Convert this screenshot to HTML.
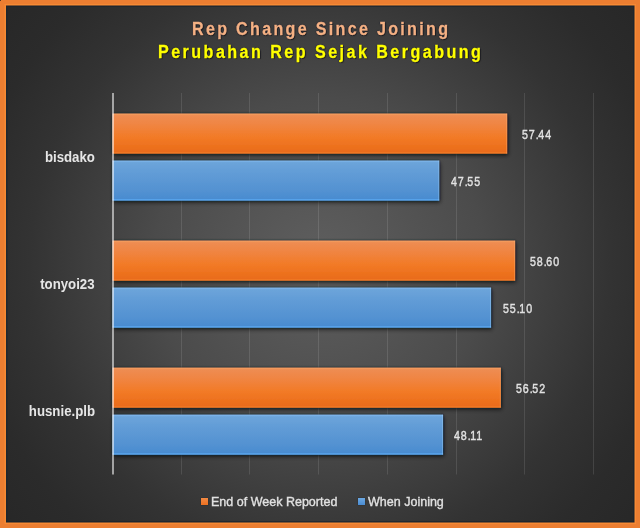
<!DOCTYPE html>
<html><head><meta charset="utf-8">
<style>
html,body{margin:0;padding:0;width:640px;height:528px;overflow:hidden;background:#ED7D31;}
#chart{position:absolute;left:0;top:0;width:640px;height:528px;overflow:hidden;
  background:radial-gradient(circle farthest-corner at 320px 264px,#5f5f5f 0%,#4b4b4b 40%,#333333 70%,#2b2b2b 85%,#272727 100%);}
.t{position:absolute;white-space:nowrap;font-family:"Liberation Sans",sans-serif;line-height:1;}
.title1{font-weight:bold;font-size:17.5px;color:#F4B183;letter-spacing:2.5px;transform:scaleX(0.92);transform-origin:0 0;-webkit-text-stroke:0.3px #F4B183;text-shadow:0 0 1px rgba(16,16,40,1),0 0 1.5px rgba(16,16,40,0.8),1px 1px 1px rgba(0,0,0,0.5);}
.title2{font-weight:bold;font-size:17.5px;color:#FFFF00;letter-spacing:2.67px;transform:scaleX(0.92);transform-origin:0 0;-webkit-text-stroke:0.3px #FFFF00;text-shadow:0 0 1px rgba(16,16,40,1),0 0 1.5px rgba(16,16,40,0.8),1px 1px 1px rgba(0,0,0,0.5);}
.cat{font-weight:bold;font-size:14px;color:#E6E6E6;transform:scaleX(0.945);transform-origin:100% 50%;}
.val{font-size:13px;color:#E2E2E2;letter-spacing:1.1px;transform:scaleX(0.82);transform-origin:0 50%;-webkit-text-stroke:0.45px #E2E2E2;text-shadow:0 0 1px rgba(0,0,0,0.5);}
.p{letter-spacing:-0.4px;}
.leg{font-size:13.5px;color:#E2E2E2;transform:scaleX(0.927);transform-origin:0 50%;-webkit-text-stroke:0.4px #E2E2E2;text-shadow:0 0 1px rgba(0,0,0,0.5);}
.sq{position:absolute;width:7px;height:7px;top:498px;}
</style></head>
<body>
<div id="chart"></div>
<svg width="640" height="528" viewBox="0 0 640 528" style="position:absolute;left:0;top:0">
<defs>
<linearGradient id="go" x1="0" y1="0" x2="0" y2="1">
 <stop offset="0" stop-color="#F6A068"/><stop offset="0.025" stop-color="#F29858"/><stop offset="0.05" stop-color="#EE8C52"/>
 <stop offset="0.3" stop-color="#F08440"/><stop offset="0.6" stop-color="#F27A26"/>
 <stop offset="0.95" stop-color="#EA6C1A"/><stop offset="0.975" stop-color="#F07822"/><stop offset="1" stop-color="#F27A24"/>
</linearGradient>
<linearGradient id="gb" x1="0" y1="0" x2="0" y2="1">
 <stop offset="0" stop-color="#80BAEE"/><stop offset="0.025" stop-color="#78B0E6"/><stop offset="0.05" stop-color="#6CA4DA"/>
 <stop offset="0.35" stop-color="#609BD6"/><stop offset="0.7" stop-color="#5593D2"/>
 <stop offset="0.95" stop-color="#4A8CD0"/><stop offset="0.975" stop-color="#58A4EC"/><stop offset="1" stop-color="#5AA6EE"/>
</linearGradient>
<filter id="sh" x="-5%" y="-30%" width="110%" height="160%">
 <feGaussianBlur in="SourceAlpha" stdDeviation="1"/>
 <feComponentTransfer result="a1"><feFuncA type="linear" slope="1.1"/></feComponentTransfer>
 <feFlood flood-color="#0e1c28"/><feComposite in2="a1" operator="in" result="s1"/>
 <feGaussianBlur in="SourceAlpha" stdDeviation="2"/>
 <feOffset dx="1" dy="2"/>
 <feComponentTransfer result="a2"><feFuncA type="linear" slope="0.6"/></feComponentTransfer>
 <feFlood flood-color="#000"/><feComposite in2="a2" operator="in" result="s2"/>
 <feMerge><feMergeNode in="s2"/><feMergeNode in="s1"/><feMergeNode in="SourceGraphic"/></feMerge>
</filter>
</defs>
<rect x="181" y="93" width="1" height="381.5" fill="rgba(255,255,255,0.11)"/>
<rect x="249" y="93" width="1" height="381.5" fill="rgba(255,255,255,0.11)"/>
<rect x="318" y="93" width="1" height="381.5" fill="rgba(255,255,255,0.11)"/>
<rect x="387" y="93" width="1" height="381.5" fill="rgba(255,255,255,0.11)"/>
<rect x="456" y="93" width="1" height="381.5" fill="rgba(255,255,255,0.11)"/>
<rect x="524" y="93" width="1" height="381.5" fill="rgba(255,255,255,0.11)"/>
<rect x="593" y="93" width="1" height="381.5" fill="rgba(255,255,255,0.11)"/>
<g filter="url(#sh)"><rect x="112.56" y="113.60" width="394.56" height="40.0" fill="url(#go)"/></g>
<rect x="506.12" y="113.60" width="1" height="40.0" fill="rgba(255,180,120,0.35)"/>
<g filter="url(#sh)"><rect x="112.56" y="160.60" width="326.62" height="40.0" fill="url(#gb)"/></g>
<rect x="438.18" y="160.60" width="1" height="40.0" fill="rgba(170,215,255,0.35)"/>
<g filter="url(#sh)"><rect x="112.56" y="240.65" width="402.52" height="40.0" fill="url(#go)"/></g>
<rect x="514.08" y="240.65" width="1" height="40.0" fill="rgba(255,180,120,0.35)"/>
<g filter="url(#sh)"><rect x="112.56" y="287.65" width="378.48" height="40.0" fill="url(#gb)"/></g>
<rect x="490.04" y="287.65" width="1" height="40.0" fill="rgba(170,215,255,0.35)"/>
<g filter="url(#sh)"><rect x="112.56" y="367.70" width="388.24" height="40.0" fill="url(#go)"/></g>
<rect x="499.80" y="367.70" width="1" height="40.0" fill="rgba(255,180,120,0.35)"/>
<g filter="url(#sh)"><rect x="112.56" y="414.70" width="330.47" height="40.0" fill="url(#gb)"/></g>
<rect x="442.03" y="414.70" width="1" height="40.0" fill="rgba(170,215,255,0.35)"/>
<rect x="112" y="93" width="2" height="381.5" fill="#ffffff" fill-opacity="0.55"/>
<path fill-rule="evenodd" fill="#EC7E31" d="M0 0H640V528H0Z M6.0 5.5V522.5H634.5V5.5Z"/>
<rect x="4.5" y="4.0" width="631.5" height="1.5" fill="#F68A34"/>
<rect x="4.5" y="522.5" width="631.5" height="1.5" fill="#F68A34"/>
<rect x="4.5" y="5.5" width="1.5" height="517.0" fill="#F68A34"/>
<rect x="634.5" y="5.5" width="1.5" height="517.0" fill="#F68A34"/>
<path fill-rule="evenodd" fill="rgba(24,36,46,0.65)" d="M6.0 5.5H634.5V522.5H6.0Z M7.5 7.0V521.0H633.0V7.0Z"/>
<rect x="0" y="0" width="1" height="1" fill="#5a3a22"/>
</svg>
<div class="t title1" style="left:191.5px;top:20.5px">Rep Change Since Joining</div>
<div class="t title2" style="left:157.5px;top:44px">Perubahan Rep Sejak Bergabung</div>
<div class="t cat" style="right:545px;top:150px">bisdako</div>
<div class="t cat" style="right:545px;top:277px">tonyoi23</div>
<div class="t cat" style="right:545px;top:404px">husnie.plb</div>
<div class="t val" style="left:522.2px;top:127.5px">57<span class="p">.</span>44</div>
<div class="t val" style="left:450.5px;top:174.5px">47<span class="p">.</span>55</div>
<div class="t val" style="left:530.3px;top:254.5px">58<span class="p">.</span>60</div>
<div class="t val" style="left:502.8px;top:301.5px">55<span class="p">.</span>10</div>
<div class="t val" style="left:516.1px;top:381.5px">56<span class="p">.</span>52</div>
<div class="t val" style="left:454.4px;top:428.5px">48<span class="p">.</span>11</div>
<div class="sq" style="left:201px;background:linear-gradient(#F28A44,#EC7020);box-shadow:0 0 1px rgba(10,20,30,0.7)"></div>
<div class="t leg" style="left:211px;top:494.5px">End of Week Reported</div>
<div class="sq" style="left:358px;background:linear-gradient(#6CA8E2,#4A8CD2);box-shadow:0 0 1px rgba(10,20,30,0.7)"></div>
<div class="t leg" style="left:368px;top:494.5px">When Joining</div>
</body></html>
